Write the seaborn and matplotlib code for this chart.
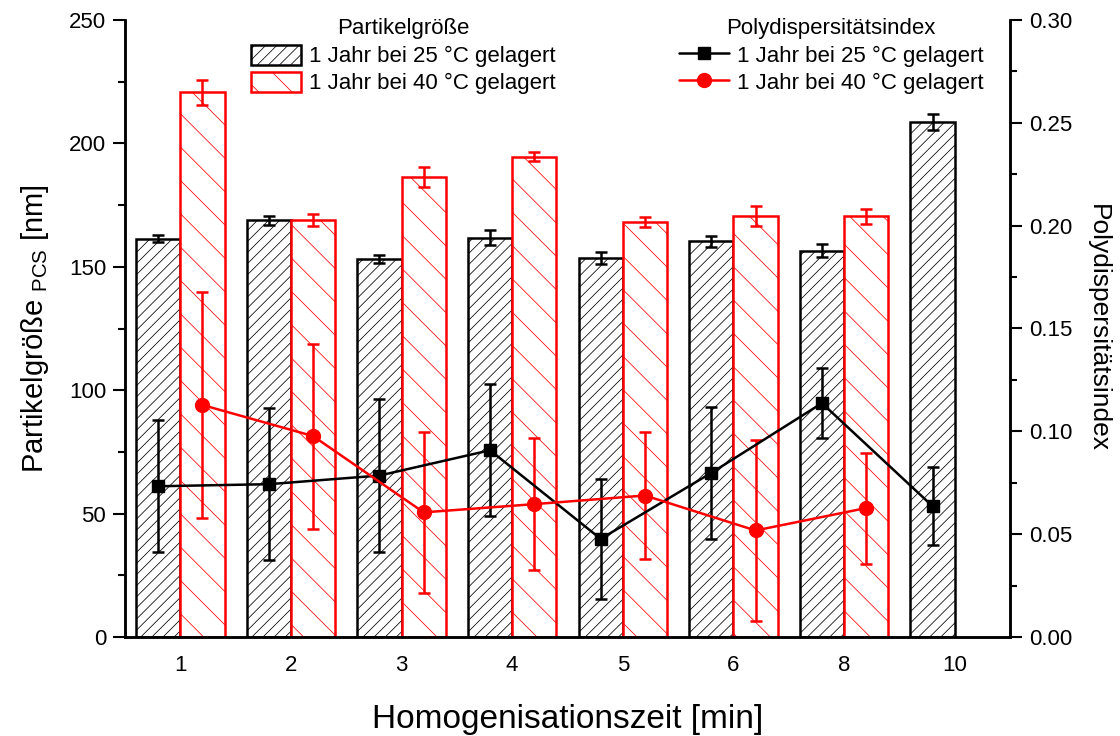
import numpy as np
import pandas as pd
import matplotlib
matplotlib.use("Agg")
import matplotlib.pyplot as plt
import seaborn as sns
from matplotlib.ticker import MultipleLocator, FormatStrFormatter
from matplotlib.patches import Patch
from matplotlib.lines import Line2D

# ---------------- data ----------------
zeit = ["1", "2", "3", "4", "5", "6", "8", "10"]
lagerung = ["1 Jahr bei 25 °C gelagert", "1 Jahr bei 40 °C gelagert"]

size_25 = [161.3, 168.9, 153.2, 161.8, 153.7, 160.4, 156.6, 208.8]
size_25_err = [1.4, 1.8, 1.5, 3.0, 2.4, 2.2, 2.7, 3.2]
size_40 = [220.7, 168.9, 186.5, 194.6, 168.0, 170.7, 170.4, np.nan]
size_40_err = [5.0, 2.3, 4.0, 1.9, 2.0, 4.0, 3.0, np.nan]

pdi_25 = [0.0733, 0.0743, 0.0785, 0.0908, 0.0477, 0.0798, 0.1137, 0.0636]
pdi_25_err = [0.032, 0.037, 0.037, 0.032, 0.029, 0.032, 0.017, 0.019]
pdi_40 = [0.1128, 0.0977, 0.0606, 0.0646, 0.0688, 0.0518, 0.0627, np.nan]
pdi_40_err = [0.055, 0.045, 0.039, 0.032, 0.031, 0.044, 0.027, np.nan]

colors = ["black", "#ff0000"]
hatches = ["///", "\\"]

# ---------------- style ----------------
sns.set_style("white")
plt.rcParams["font.family"] = ["Liberation Sans", "DejaVu Sans"]
plt.rcParams["mathtext.fontset"] = "custom"
plt.rcParams["mathtext.rm"] = "Liberation Sans"
plt.rcParams["hatch.linewidth"] = 0.55
for k in ["text.color", "axes.labelcolor", "xtick.color", "ytick.color", "axes.edgecolor"]:
    plt.rcParams[k] = "black"
TICK_FS = 16
LEG_FS = 16
LW = 1.8

df = pd.DataFrame({
    "Zeit": zeit * 2,
    "Groesse": size_25 + size_40,
    "Lagerung": [lagerung[0]] * len(zeit) + [lagerung[1]] * len(zeit),
})

fig = plt.figure(figsize=(11.2, 7.36), dpi=100)
ax = fig.add_axes([125 / 1120, 1 - 637 / 736, (1010 - 125) / 1120, (637 - 20) / 736])

sns.barplot(data=df, x="Zeit", y="Groesse", hue="Lagerung", order=zeit,
            hue_order=lagerung, palette=["white", "white"], saturation=1,
            errorbar=None, width=0.8, dodge=True, legend=False, ax=ax)

xs = np.arange(len(zeit))
offsets = [-0.2, 0.2]
for cont, col, hat in zip(ax.containers, colors, hatches):
    for bar in cont:
        bar.set_facecolor("white")
        bar.set_edgecolor(col)
        bar.set_hatch(hat)
        bar.set_linewidth(LW)

for vals, errs, col, off in zip([size_25, size_40], [size_25_err, size_40_err], colors, offsets):
    v = np.array(vals, dtype=float)
    e = np.array(errs, dtype=float)
    m = ~np.isnan(v)
    ax.errorbar(xs[m] + off, v[m], yerr=e[m], fmt="none", ecolor=col,
                elinewidth=LW, capsize=4.5, capthick=LW, zorder=3)

ax.set_xlim(-0.5, len(zeit) - 0.5)
ax.set_ylim(0, 250)
ax.yaxis.set_major_locator(MultipleLocator(50))
ax.yaxis.set_minor_locator(MultipleLocator(25))
ax.tick_params(axis="y", which="major", direction="out", length=8.5, width=1.5,
               labelsize=TICK_FS, pad=5, left=True)
ax.tick_params(axis="y", which="minor", direction="out", length=5, width=1.5, left=True)
ax.tick_params(axis="x", length=0, labelsize=TICK_FS, pad=13)
ax.set_xlabel("Homogenisationszeit [min]", fontsize=24, labelpad=20)
ax.set_ylabel("Partikelgröße $_{\\mathregular{PCS}}$ [nm]", fontsize=21, labelpad=13)

for s in ["left", "bottom", "right"]:
    ax.spines[s].set_linewidth(LW)
    ax.spines[s].set_color("black")
ax.spines["top"].set_visible(False)

# ---------------- PDI on twin axis ----------------
ax2 = ax.twinx()
markers = ["s", "o"]
msizes = [8.5, 10]
for vals, errs, col, off, mk, ms in zip([pdi_25, pdi_40], [pdi_25_err, pdi_40_err],
                                        colors, offsets, markers, msizes):
    v = np.array(vals, dtype=float)
    e = np.array(errs, dtype=float)
    m = ~np.isnan(v)
    ax2.errorbar(xs[m] + off, v[m], yerr=e[m], color=col, marker=mk, ms=ms,
                 lw=LW, elinewidth=LW, capsize=4.5, capthick=LW)

ax2.set_ylim(0, 0.30)
ax2.yaxis.set_major_locator(MultipleLocator(0.05))
ax2.yaxis.set_minor_locator(MultipleLocator(0.025))
ax2.yaxis.set_major_formatter(FormatStrFormatter("%.2f"))
ax2.tick_params(axis="y", which="major", direction="out", length=8.5, width=1.5,
                labelsize=TICK_FS, pad=5, right=True)
ax2.tick_params(axis="y", which="minor", direction="out", length=5, width=1.5, right=True)
ax2.set_ylabel("Polydispersitätsindex", fontsize=19, rotation=270, va="bottom", labelpad=10)
for s in ["left", "bottom", "right"]:
    ax2.spines[s].set_linewidth(LW)
    ax2.spines[s].set_color("black")
ax2.spines["top"].set_visible(False)
ax2.grid(False)
ax.grid(False)

# ---------------- legends ----------------
bar_handles = [Patch(facecolor="white", edgecolor=c, hatch=h, linewidth=LW, label=l)
               for c, h, l in zip(colors, hatches, lagerung)]
line_handles = [Line2D([], [], color=c, marker=mk, ms=ms, lw=LW, label=l)
                for c, mk, ms, l in zip(colors, markers, msizes, lagerung)]

common = dict(frameon=False, fontsize=LEG_FS, title_fontsize=LEG_FS, borderpad=0,
              handlelength=2.25, handleheight=1.0, handletextpad=0.35, labelspacing=0.2,
              loc="upper center", bbox_transform=fig.transFigure)
leg1 = fig.legend(handles=bar_handles, title="Partikelgröße",
                  bbox_to_anchor=(403 / 1120, 1 - 7 / 736), **common)
leg2 = fig.legend(handles=line_handles, title="Polydispersitätsindex",
                  bbox_to_anchor=(831 / 1120, 1 - 7 / 736), **common)
for lg in (leg1, leg2):
    lg._legend_box.sep = 4

fig.savefig("out.png", dpi=100)
